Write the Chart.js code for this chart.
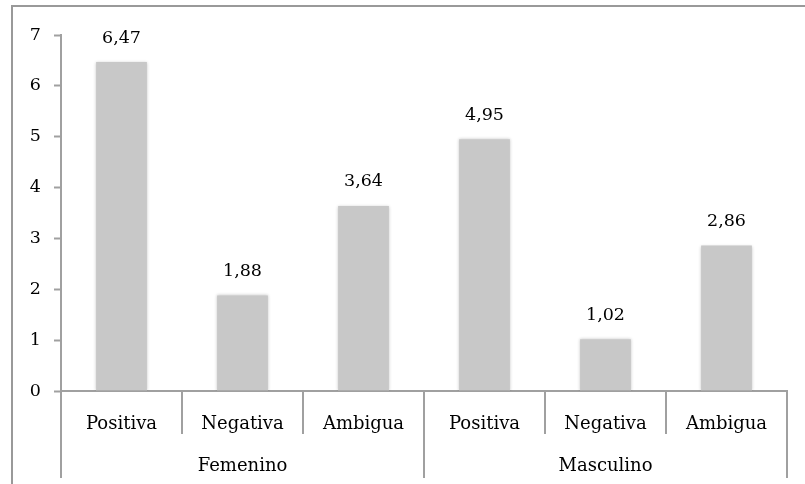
<!DOCTYPE html>
<html>
<head>
<meta charset="utf-8">
<script src="https://cdn.jsdelivr.net/npm/chart.js@4.4.1/dist/chart.umd.min.js"></script>
<style>
html,body{margin:0;padding:0;background:#fff;overflow:hidden;}
#wrap{position:relative;width:805px;height:484px;}
#frame{position:absolute;left:11px;top:5px;width:1000px;height:1000px;border-left:2px solid #999;border-top:2px solid #999;pointer-events:none;}
canvas{position:absolute;left:0;top:0;}
</style>
</head>
<body>
<div id="wrap">
<canvas id="c" width="805" height="484"></canvas>
<div id="frame"></div>
</div>
<script>
const categories = ['Positiva','Negativa','Ambigua','Positiva','Negativa','Ambigua'];
const groups = ['Femenino','Masculino'];
const values = [6.47,1.88,3.64,4.95,1.02,2.86];
const yMin = 0, yMax = 7, yStep = 1;

const FAMILY = '"DejaVu Serif", serif';
const NUMFONT = {family:FAMILY, size:17.5};
const CATFONT = {family:FAMILY, size:18};
const AXIS = '#a0a0a0';

const barShadow = {
  id:'barShadow',
  beforeDatasetDraw(chart){
    const ctx = chart.ctx;
    ctx.save();
    ctx.shadowColor = 'rgba(0,0,0,0.22)';
    ctx.shadowBlur = 3;
  },
  afterDatasetDraw(chart){
    chart.ctx.restore();
  }
};

const valueLabels = {
  id:'valueLabels',
  afterDatasetsDraw(chart){
    const ctx = chart.ctx;
    const meta = chart.getDatasetMeta(0);
    ctx.save();
    ctx.font = NUMFONT.size + 'px ' + NUMFONT.family;
    ctx.fillStyle = '#000';
    ctx.textAlign = 'center';
    ctx.textBaseline = 'middle';
    meta.data.forEach((bar,i)=>{
      ctx.fillText(values[i].toFixed(2).replace('.',','), bar.x, bar.y - 24);
    });
    ctx.restore();
  }
};

new Chart(document.getElementById('c'), {
  type:'bar',
  data:{
    labels:categories,
    datasets:[{data:values, backgroundColor:'#c8c8c8', borderWidth:0, barPercentage:0.42, categoryPercentage:1}]
  },
  options:{
    responsive:false,
    animation:false,
    layout:{padding:{left:0,right:18,top:35,bottom:0}},
    plugins:{legend:{display:false},tooltip:{enabled:false}},
    scales:{
      y:{
        min:yMin,max:yMax,
        afterFit(s){ s.width = 61; },
        ticks:{stepSize:yStep,color:'#000',font:NUMFONT,padding:13},
        grid:{drawOnChartArea:false,tickLength:7,tickColor:AXIS,tickWidth:2},
        border:{color:AXIS,width:2}
      },
      x:{
        offset:true,
        afterFit(s){ s.height = 43; },
        ticks:{color:'#000',font:CATFONT,padding:-20,maxRotation:0,autoSkip:false},
        grid:{offset:true,drawOnChartArea:false,tickLength:43,color:AXIS,tickColor:AXIS,lineWidth:2,tickWidth:2},
        border:{color:AXIS,width:2}
      },
      x2:{
        type:'category',
        labels:groups,
        position:'bottom',
        offset:true,
        afterFit(s){ s.height = 50; },
        ticks:{color:'#000',font:CATFONT,padding:-22,maxRotation:0,autoSkip:false},
        grid:{offset:true,drawOnChartArea:false,tickLength:44,color:AXIS,tickColor:AXIS,lineWidth:2,tickWidth:2},
        border:{display:false}
      }
    }
  },
  plugins:[barShadow, valueLabels]
});
</script>
</body>
</html>
